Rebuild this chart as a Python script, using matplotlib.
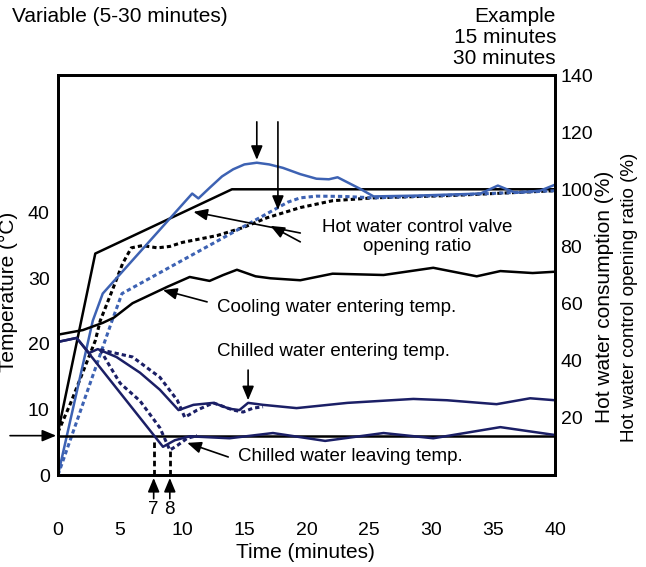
import matplotlib
matplotlib.use("Agg")
import matplotlib.pyplot as plt

plt.rcParams['font.family'] = ['Liberation Sans', 'DejaVu Sans']

# ---------------------------------------------------------------
# data (time in minutes)
# right axis (%): hot water consumption / control valve opening ratio
cons_t = [0, 3.0, 14.0, 40]
cons_v = [15, 77.5, 100, 100]

valve_t = [0, 1, 2, 3, 3.4, 4.4, 5.2, 5.9, 6.8, 8.0, 9.0, 10.0, 12.8, 14.9,
           16.8, 19.5, 22.1, 25.4, 31.5, 40]
valve_v = [15, 25, 36, 47, 54, 65, 74, 79.5, 80.3, 79.5, 80, 81.4, 83.8, 86.6,
           90, 93.6, 96, 97, 97.8, 99.5]

blue_t = [0, 2.8, 3.6, 10.8, 11.3, 12.2, 13.2, 14.1, 15.0, 16.0, 17.0, 18.1,
          19.5, 20.8, 21.8, 22.5, 23.4, 24.3, 25.4, 29, 34, 35.4, 36.8, 38.8, 40]
blue_v = [0, 54, 63.5, 98.5, 96.8, 100.5, 104.5, 107, 108.7, 109.3, 108.7, 107.5,
          105.3, 103.7, 103.5, 104.2, 102.2, 100.2, 97.5, 97.8, 98.5, 101.3, 98.8,
          99.5, 101.6]

bluedot_t = [0, 4.35, 5.15, 18.5, 19.5, 20.8, 23, 25.4, 32, 40]
bluedot_v = [0, 54, 63.5, 95.5, 97, 97.6, 97.5, 97, 98, 99.5]

# left axis (deg C)
cool_t = [0, 2.0, 3.6, 4.5, 6.0, 8.8, 10.6, 12.2, 13.3, 14.4, 15.9, 17.1, 19.5,
          22.1, 26.2, 30.2, 33.7, 35.6, 38.2, 40]
cool_T = [21.4, 22.1, 23.2, 24.0, 26.2, 28.7, 30.2, 29.6, 30.5, 31.3, 30.3, 30.0,
          29.7, 30.7, 30.5, 31.6, 30.3, 31.1, 30.8, 31.0]

ch_in_t = [0, 1.5, 2.5, 3.2, 4.7, 6.6, 8.2, 9.7, 10.9, 12.5, 13.8, 14.6, 15.3,
           16.5, 19.2, 23.3, 28.6, 31.3, 35.3, 38.0, 40]
ch_in_T = [20.3, 20.9, 18.6, 19.2, 18.0, 15.6, 13.0, 9.9, 10.7, 11.0, 10.1, 9.9,
           11.0, 10.7, 10.2, 11.0, 11.6, 11.4, 10.8, 11.7, 11.4]

ch_in_dot_t = [3.4, 6.0, 8.2, 9.6, 10.2, 11.2, 12.5, 14.1, 14.9, 15.7, 16.5]
ch_in_dot_T = [19.1, 18.0, 14.9, 11.4, 8.8, 9.9, 11.0, 9.9, 9.6, 10.2, 10.4]

ch_out_t = [0, 1.5, 8.45, 9.4, 10.6, 13.8, 17.3, 21.5, 26.2, 30.2, 35.6, 40]
ch_out_T = [20.3, 20.9, 4.3, 5.3, 5.9, 5.6, 6.4, 5.2, 6.4, 5.6, 7.3, 6.1]

ch_out_dot_t = [3.4, 4.2, 5.0, 6.6, 8.2, 9.0, 9.6, 10.4, 11.2]
ch_out_dot_T = [19.1, 16.5, 14.0, 11.3, 7.2, 3.8, 4.5, 5.6, 6.0]

setpoint = 6.0
cross_t = [7.7, 9.0]
cross_T = [5.3, 3.8]
cross_labels = ['7', '8']

BLUE = '#3d62b3'
NAVY = '#1b1f66'
DOT = (0, (1.4, 1.0))

fig = plt.figure(figsize=(6.46, 5.67), dpi=100)
ax = fig.add_axes([58 / 646, 1 - 475 / 567, (555 - 58) / 646, (475 - 75) / 567])
ax2 = ax.twinx()

ax.set_xlim(0, 40)
ax.set_ylim(0, 61)
ax2.set_ylim(0, 140)

# right-axis curves
ax2.plot(cons_t, cons_v, color='black', lw=1.8)
ax2.plot(valve_t, valve_v, color='black', lw=2.2, ls=DOT)
ax2.plot(bluedot_t, bluedot_v, color=BLUE, lw=2.2, ls=DOT)
ax2.plot(blue_t, blue_v, color=BLUE, lw=1.8)

# temperature curves
ax.axhline(setpoint, color='black', lw=1.8)
ax.plot(cool_t, cool_T, color='black', lw=1.8)
ax.plot(ch_in_t, ch_in_T, color=NAVY, lw=1.8)
ax.plot(ch_in_dot_t, ch_in_dot_T, color=NAVY, lw=2.2, ls=DOT)
ax.plot(ch_out_t, ch_out_T, color=NAVY, lw=1.8)
ax.plot(ch_out_dot_t, ch_out_dot_T, color=NAVY, lw=2.2, ls=DOT)
for t, T in zip(cross_t, cross_T):
    ax.plot([t, t], [0, T], color='black', lw=2, ls=(0, (2, 1.3)))

ax.set_zorder(ax2.get_zorder() + 1)
ax.patch.set_visible(False)

arrow = dict(arrowstyle='-|>,head_length=0.6,head_width=0.25', color='black',
             lw=1.2, mutation_scale=14, shrinkA=0, shrinkB=0)


def arr(axis, tip, tail):
    axis.annotate('', xy=tip, xytext=tail, arrowprops=arrow, annotation_clip=False)


arr(ax2, (16.0, 110.3), (16.0, 123.6))
arr(ax2, (17.7, 92.8), (17.7, 123.6))
arr(ax2, (10.9, 92.1), (19.5, 84.7))
arr(ax2, (17.1, 87.2), (19.5, 81.6))
arr(ax, (8.45, 28.2), (12.0, 26.4))
arr(ax, (15.3, 11.4), (15.3, 16.0))
arr(ax, (10.4, 4.9), (13.7, 2.75))
arr(ax, (-0.15, setpoint), (-3.86, setpoint))
for t, lab in zip(cross_t, cross_labels):
    arr(ax, (t, -0.45), (t, -3.6))
    ax.text(t, -5.3, lab, ha='center', va='center', fontsize=13.5, clip_on=False)

ax2.text(28.9, 83.3, 'Hot water control valve\nopening ratio', ha='center',
         va='center', fontsize=13.5, linespacing=1.1)
ax.text(12.8, 25.5, 'Cooling water entering temp.', ha='left', va='center', fontsize=13.5)
ax.text(12.8, 18.8, 'Chilled water entering temp.', ha='left', va='center', fontsize=13.5)
ax.text(14.5, 2.75, 'Chilled water leaving temp.', ha='left', va='center', fontsize=13.5)

# ticks
ax.set_xticks(range(0, 41, 5))
ax.set_yticks([0, 10, 20, 30, 40])
ax2.set_yticks(range(20, 141, 20))
ax.tick_params(axis='x', length=0, pad=34, labelsize=14)
ax.tick_params(axis='y', length=0, pad=6, labelsize=14)
ax2.tick_params(axis='y', length=0, pad=4, labelsize=14)
for a in (ax, ax2):
    for s in a.spines.values():
        s.set_linewidth(2)
        s.set_color('black')

# labels
fig.text(8 / 646, 1 - 292 / 567, 'Temperature (°C)', rotation=90, ha='center',
         va='center', fontsize=15)
fig.text(605 / 646, 1 - 297 / 567, 'Hot water consumption (%)', rotation=90,
         ha='center', va='center', fontsize=15)
fig.text(630 / 646, 1 - 297 / 567, 'Hot water control opening ratio (%)', rotation=90,
         ha='center', va='center', fontsize=13.5)
fig.text(305 / 646, 1 - 552 / 567, 'Time (minutes)', ha='center', va='center', fontsize=15)
fig.text(12 / 646, 1 - 16 / 567, 'Variable (5-30 minutes)', ha='left', va='center',
         fontsize=15)
for i, line in enumerate(['Example', '15 minutes', '30 minutes']):
    fig.text(556 / 646, 1 - (17 + 20.5 * i) / 567, line, ha='right', va='center',
             fontsize=15)

fig.savefig('out.png', dpi=100)
